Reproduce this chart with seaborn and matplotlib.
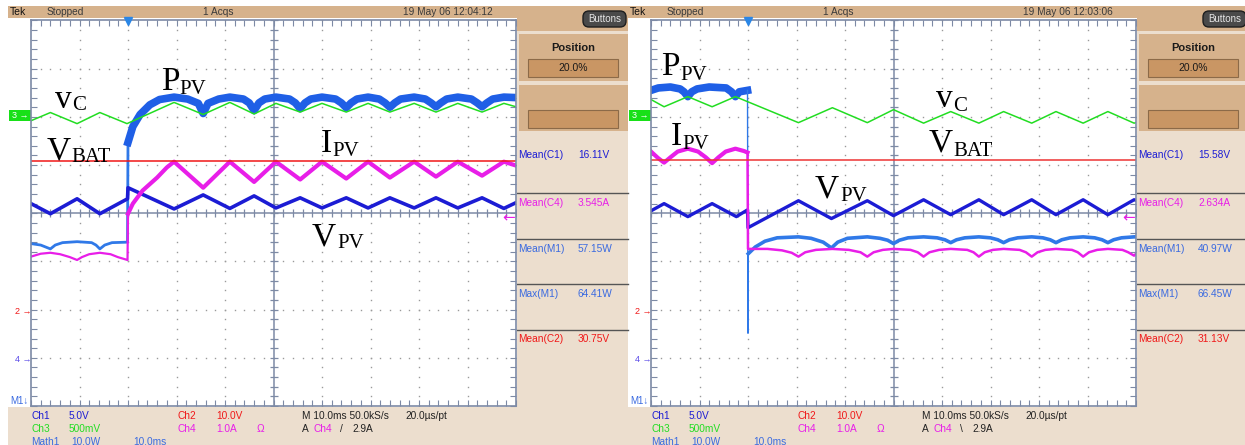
import matplotlib
matplotlib.use("Agg")
import matplotlib.pyplot as plt
from matplotlib.patches import Rectangle, FancyBboxPatch
import numpy as np
import seaborn as sns

# time in ms (10 ms/div, trigger at 0 ms), level in screen divisions

# ---------- left capture (12:04:12) ----------
l_vc_t = [-20, -16, -10.5, -5.8, -0.2, 9.5, 15.5, 21, 26, 30.5, 35.5, 40, 45, 49.5, 54, 59, 63.5, 68, 73, 77.5, 80]
l_vc_y = [1.92, 2.09, 1.86, 2.09, 1.86, 2.30, 2.05, 2.30, 2.06, 2.28, 2.10, 2.28, 2.10, 2.28, 2.10, 2.28, 2.10, 2.28, 2.10, 2.28, 2.21]
l_vbat_t = [-20, 80]
l_vbat_y = [1.09, 1.09]
l_vpv_t = [-20, -16, -10.5, -5.8, -0.1, 0, 9.5, 15.5, 21, 26, 30.5, 35.5, 40, 45, 49.5, 54, 59, 63.5, 68, 73, 77.5, 80]
l_vpv_y = [0.20, -0.01, 0.30, -0.01, 0.30, 0.53, 0.09, 0.38, 0.10, 0.36, 0.11, 0.32, 0.11, 0.32, 0.11, 0.32, 0.11, 0.32, 0.11, 0.32, 0.10, 0.22]
l_ipv_pre_t = [-20, -18, -16, -14, -12, -10.5, -9.5, -8, -5.8, -3.6, -2.1, -0.1, 0]
l_ipv_pre_y = [-0.90, -0.84, -0.82, -0.85, -0.91, -0.97, -0.91, -0.85, -0.82, -0.85, -0.91, -0.97, -0.01]
l_ipv_t = [0, 1, 3, 6, 8, 9.5, 15.5, 21, 26, 30.5, 35.5, 40, 45, 49.5, 54, 59, 63.5, 68, 73, 77.5, 80]
l_ipv_y = [-0.01, 0.20, 0.47, 0.74, 0.95, 1.07, 0.53, 1.07, 0.65, 1.07, 0.70, 1.07, 0.72, 1.07, 0.74, 1.07, 0.76, 1.07, 0.78, 1.07, 0.99]
l_ppv_pre_t = [-20, -18, -16, -15, -13.5, -10.5, -7.5, -6.6, -5.8, -4.8, -3.3, -0.1, 0]
l_ppv_pre_y = [-0.63, -0.66, -0.74, -0.66, -0.61, -0.59, -0.61, -0.66, -0.74, -0.66, -0.61, -0.60, 1.47]
l_ppv_t = [0, 1, 2.5, 4.5, 6.5, 9.5, 12.3, 14.5, 15.5,
           16.5, 18.7, 21, 23.8, 25, 26,
           27, 28.2, 30.5, 33.3, 34.5, 35.5,
           36.5, 37.7, 40, 42.8, 44, 45,
           46, 47.2, 49.5, 51.8, 53, 54,
           55, 56.2, 59, 61.3, 62.5, 63.5,
           64.5, 65.7, 68, 70.8, 72, 73,
           74, 75.2, 77.5, 80]
l_ppv_y = [1.47, 1.80, 2.05, 2.25, 2.36, 2.41, 2.37, 2.28, 2.07,
           2.28, 2.37, 2.41, 2.37, 2.29, 2.13,
           2.29, 2.37, 2.41, 2.37, 2.29, 2.17,
           2.29, 2.37, 2.41, 2.37, 2.29, 2.19,
           2.29, 2.37, 2.41, 2.37, 2.29, 2.20,
           2.29, 2.37, 2.41, 2.37, 2.29, 2.21,
           2.29, 2.37, 2.41, 2.37, 2.29, 2.21,
           2.29, 2.37, 2.41, 2.40]

# ---------- right capture (12:03:06) ----------
r_vc_t = [-20, -17.3, -12.4, -7.4, -2.6, 10.4, 17.4, 24.6, 30, 36.2, 41.8, 47.6, 52.7, 58.5, 63.5, 69.1, 74.2, 79.6, 80]
r_vc_y = [2.36, 2.21, 2.42, 2.21, 2.42, 1.88, 2.19, 1.88, 2.15, 1.87, 2.11, 1.87, 2.11, 1.87, 2.11, 1.87, 2.11, 1.87, 1.88]
r_vbat_t = [-20, 80]
r_vbat_y = [1.11, 1.11]
r_vpv_t = [-20, -17.3, -12.4, -7.4, -2.4, -0.1, 0, 10.4, 17.2, 24.6, 30, 36.2, 41.8, 47.6, 52.7, 58.5, 63.5, 69.1, 74.2, 79.6, 80]
r_vpv_y = [0.05, 0.20, -0.07, 0.20, -0.07, 0.07, -0.30, 0.26, -0.11, 0.26, -0.05, 0.28, -0.03, 0.28, -0.03, 0.28, -0.03, 0.28, -0.03, 0.28, 0.27]
r_ipv_pre_t = [-20, -18.6, -17.3, -16, -14.5, -12.4, -10.3, -8.7, -7.4, -6.1, -4.6, -2.6, -0.8, -0.1]
r_ipv_pre_y = [1.28, 1.15, 1.05, 1.16, 1.28, 1.34, 1.28, 1.16, 1.04, 1.16, 1.28, 1.34, 1.29, 1.26]
r_ipv_t = [-0.1, 0, 4, 7, 9, 10.4,
           11.8, 14, 17.4, 20.8, 23.2, 24.6,
           25.9, 27.8, 30, 33.5, 35, 36.2,
           37.4, 39.4, 41.8, 45.2, 46.5, 47.6,
           48.8, 50.5, 52.7, 56, 57.3, 58.5,
           59.7, 61.3, 63.5, 66.8, 68, 69.1,
           70.3, 72, 74.2, 77.2, 78.4, 79.6, 80]
r_ipv_y = [1.26, -0.74, -0.74, -0.77, -0.82, -0.90,
           -0.81, -0.76, -0.74, -0.76, -0.81, -0.90,
           -0.81, -0.76, -0.74, -0.76, -0.81, -0.90,
           -0.81, -0.76, -0.74, -0.76, -0.81, -0.90,
           -0.81, -0.76, -0.74, -0.76, -0.81, -0.90,
           -0.81, -0.76, -0.74, -0.76, -0.81, -0.90,
           -0.81, -0.76, -0.74, -0.76, -0.81, -0.88, -0.84]
r_ppv_pre_t = [-20, -18.5, -16, -14, -13.2, -12.4, -11.6, -10.5, -8, -4.5, -3.4, -2.6, -1.8, -0.1]
r_ppv_pre_y = [2.55, 2.60, 2.62, 2.58, 2.52, 2.42, 2.52, 2.58, 2.62, 2.60, 2.52, 2.42, 2.52, 2.55]
r_spike_t = [-0.1, 0, 0.05]
r_spike_y = [2.55, -2.49, -0.84]
r_ppv_t = [0.05, 1.5, 3.5, 6, 10.4, 13, 15.5, 17.2,
           18.5, 20.5, 24.6, 27.2, 28.8, 30,
           31.2, 33, 36.2, 39, 40.6, 41.8,
           43, 44.7, 47.6, 50, 51.5, 52.7,
           53.9, 55.6, 58.5, 60.8, 62.3, 63.5,
           64.7, 66.4, 69.1, 71.5, 73, 74.2,
           75.4, 77, 79.6, 80]
r_ppv_y = [-0.84, -0.70, -0.58, -0.51, -0.49, -0.52, -0.60, -0.72,
           -0.60, -0.52, -0.49, -0.52, -0.56, -0.63,
           -0.56, -0.51, -0.49, -0.51, -0.55, -0.61,
           -0.55, -0.51, -0.49, -0.51, -0.55, -0.61,
           -0.55, -0.51, -0.49, -0.51, -0.55, -0.61,
           -0.55, -0.51, -0.49, -0.51, -0.55, -0.61,
           -0.55, -0.51, -0.49, -0.49]

# side panel measurements
meas_names = ["Mean(C1)", "Mean(C4)", "Mean(M1)", "Max(M1)", "Mean(C2)"]
l_meas = ["16.11V", "3.545A", "57.15W", "64.41W", "30.75V"]
r_meas = ["15.58V", "2.634A", "40.97W", "66.45W", "31.13V"]

# big serif annotations: (main, sub, x, y_main, x_sub, y_sub) in pixels
l_labels = [("v", "C", 55, 108, 72, 110), ("P", "PV", 161, 90, 179, 94),
            ("V", "BAT", 47, 159, 71, 162), ("I", "PV", 321, 152, 332, 156),
            ("V", "PV", 312, 245, 337, 248)]
r_labels = [("P", "PV", 661, 75, 680, 80), ("I", "PV", 671, 145, 682, 149),
            ("v", "C", 936, 107, 953, 111), ("V", "BAT", 929, 152, 953, 156),
            ("V", "PV", 815, 197, 840, 201)]

DBLUE = "#1c1cd4"
RED = "#f01818"
GREEN = "#22dd22"
MAG = "#e81ee8"
MBLUE = "#1f5fe6"
LBLUE = "#3079e8"
TAN = "#d6b28c"
LIGHT = "#ecdece"
BOX = "#c99664"
GRID = "#7d8aa5"
SANS = "Liberation Sans"
SERIF = "Liberation Serif"

W, H = 1245, 445
fig = plt.figure(figsize=(W / 100, H / 100), dpi=100, facecolor="white")
bg = fig.add_axes([0, 0, 1, 1])
bg.set_xlim(0, W)
bg.set_ylim(H, 0)
bg.axis("off")


def rect(x, y, w, h, fc, ec="none", lw=0):
    bg.add_patch(Rectangle((x, y), w, h, facecolor=fc, edgecolor=ec, linewidth=lw))


def txt(x, y, s, color="#222222", size=7.3, **kw):
    bg.text(x, y, s, color=color, fontsize=size, family=SANS, va="center", ha="left", **kw)


def trace(ax, t, y, color, lw):
    sns.lineplot(x=t, y=y, ax=ax, color=color, linewidth=lw, sort=False,
                 estimator=None, legend=False)


def panel(ox, date, meas, slope, traces):
    # frame pieces
    rect(ox + 8, 6, 620, 12, TAN)
    rect(ox + 517, 18, 111, 389, LIGHT)
    rect(ox + 517, 6, 111, 25, TAN)
    rect(ox + 519, 34, 109, 47, TAN)
    rect(ox + 519, 85, 109, 46, TAN)
    rect(ox + 528, 59, 90, 18, BOX, "#8c6a48", 0.8)
    rect(ox + 528, 110, 90, 18, BOX, "#8c6a48", 0.8)
    rect(ox + 8, 407, 620, 38, LIGHT)
    bg.add_patch(FancyBboxPatch((ox + 583, 11), 43, 16, boxstyle="round,pad=0,rounding_size=6",
                                facecolor="#4a4a4a", edgecolor="#1e1e1e", linewidth=1))
    bg.text(ox + 604.5, 19.5, "Buttons", color="#e6e6e6", fontsize=7, family=SANS,
            ha="center", va="center")
    bg.text(ox + 573, 48, "Position", color="#1a1a1a", fontsize=8, family=SANS,
            weight="bold", ha="center", va="center")
    bg.text(ox + 573, 68, "20.0%", color="#1a1a1a", fontsize=7.5, family=SANS,
            ha="center", va="center")

    # top bar
    txt(ox + 10, 12, "Tek", "#111111", 7.5)
    txt(ox + 47, 12, "Stopped", "#3a3a3a")
    txt(ox + 203, 12, "1 Acqs", "#3a3a3a")
    txt(ox + 403, 12, date, "#3a3a3a")

    # measurements
    mcol = [DBLUE, MAG, "#3a6ae0", "#3a6ae0", RED]
    for i, (name, val) in enumerate(zip(meas_names, meas)):
        yy = 155
        if i:
            yy = 203 + (i - 1) * 45.5
            bg.plot([ox + 517, ox + 628], [yy - 10, yy - 10], color="#555555", lw=1)
        txt(ox + 518, yy, name, mcol[i])
        txt(ox + 578, yy, val, mcol[i])

    # bottom readout
    rows = [(416, [("Ch1", 31, DBLUE), ("5.0V", 69, DBLUE), ("Ch2", 177, RED), ("10.0V", 216, RED),
                   ("M 10.0ms 50.0kS/s", 302, "#222222"), ("20.0\u00b5s/pt", 405, "#222222")]),
            (429, [("Ch3", 31, GREEN), ("500mV", 69, GREEN), ("Ch4", 177, MAG), ("1.0A", 216, MAG),
                   ("\u03a9", 257, MAG), ("A", 302, "#222222"), ("Ch4", 314, MAG),
                   (slope, 340, "#222222"), ("2.9A", 352, "#222222")]),
            (442, [("Math1", 31, "#3a6ae0"), ("10.0W", 71, "#3a6ae0"), ("10.0ms", 133, "#3a6ae0")])]
    for yy, items in rows:
        for s, xx, c in items:
            txt(ox + xx, yy, s, c)

    # channel markers on the left
    rect(ox + 9, 110, 22, 11, "#18e018")
    txt(ox + 12, 115.5, "3 \u2192", "white", 6.5)
    txt(ox + 15, 311, "2 \u2192", RED, 6.5)
    txt(ox + 15, 359, "4 \u2192", "#5a4ae8", 6.5)
    txt(ox + 10, 401, "M1\u2193", "#3a6ae0", 7)

    # graticule
    ax = fig.add_axes([(ox + 31) / W, (H - 406) / H, 485 / W, 385.5 / H])
    ax.set_facecolor("white")
    ax.set_xlim(-20, 80)
    ax.set_ylim(-4, 4)
    for sp in ax.spines.values():
        sp.set_color(GRID)
        sp.set_linewidth(1.2)
    ax.set_xticks(np.arange(-20, 80.01, 2))
    ax.set_yticks(np.arange(-4, 4.01, 0.2))
    ax.tick_params(direction="in", length=4, width=0.8, color=GRID, top=True, right=True,
                   labelbottom=False, labelleft=False)
    mx = np.arange(-20, 80.01, 2)
    my = np.arange(-4, 4.01, 0.2)
    for gx in [-10, 0, 10, 20, 40, 50, 60, 70]:
        ax.plot(np.full_like(my, gx), my, ls="none", marker="s", ms=1.0, color="#9a9a9a", mew=0)
    for gy in [-3, -2, -1, 1, 2, 3]:
        ax.plot(mx, np.full_like(mx, gy), ls="none", marker="s", ms=1.0, color="#9a9a9a", mew=0)
    ax.axvline(30, color=GRID, lw=1.1)
    ax.axhline(0, color=GRID, lw=1.1)
    ax.plot(mx, np.zeros_like(mx), ls="none", marker="|", ms=5.5, mew=0.9, color=GRID)
    ax.plot(np.full_like(my, 30), my, ls="none", marker="_", ms=5.5, mew=0.9, color=GRID)
    ax.plot([0], [4], marker="v", ms=6, color="#2a86e6", clip_on=False, zorder=5)

    for t, y, c, lw in traces:
        trace(ax, t, y, c, lw)
    ax.set_xlabel("")
    ax.set_ylabel("")
    return ax


panel(0, "19 May 06 12:04:12", l_meas, "/",
      [(l_ppv_pre_t, l_ppv_pre_y, LBLUE, 2.0),
       (l_ppv_t, l_ppv_y, MBLUE, 5.5),
       (l_vpv_t, l_vpv_y, DBLUE, 2.6),
       (l_vc_t, l_vc_y, GREEN, 1.1),
       (l_ipv_pre_t, l_ipv_pre_y, MAG, 1.6),
       (l_ipv_t, l_ipv_y, MAG, 3.0),
       (l_vbat_t, l_vbat_y, RED, 1.1)])
panel(620, "19 May 06 12:03:06", r_meas, "\\",
      [(r_ppv_pre_t, r_ppv_pre_y, MBLUE, 5.5),
       (r_spike_t, r_spike_y, LBLUE, 1.0),
       (r_ppv_t, r_ppv_y, LBLUE, 2.6),
       (r_vpv_t, r_vpv_y, DBLUE, 2.4),
       (r_vc_t, r_vc_y, GREEN, 1.1),
       (r_ipv_pre_t, r_ipv_pre_y, MAG, 3.0),
       (r_ipv_t, r_ipv_y, MAG, 1.8),
       (r_vbat_t, r_vbat_y, "#ee3434", 1.1)])

# overlay for annotations and trigger arrows
ov = fig.add_axes([0, 0, 1, 1], zorder=10)
ov.set_xlim(0, W)
ov.set_ylim(H, 0)
ov.axis("off")
ov.patch.set_alpha(0)
for main, sub, x, y, xs, ys in l_labels + r_labels:
    ov.text(x, y, main, fontsize=24, family=SERIF, va="baseline", ha="left", color="black")
    ov.text(xs, ys, sub, fontsize=15, family=SERIF, va="baseline", ha="left", color="black")
for ox in (0, 620):
    ov.text(ox + 502, 218, "\u2190", color=MAG, fontsize=11, va="center", ha="left",
            family="DejaVu Sans")

fig.savefig("out.png", dpi=100, facecolor="white")
